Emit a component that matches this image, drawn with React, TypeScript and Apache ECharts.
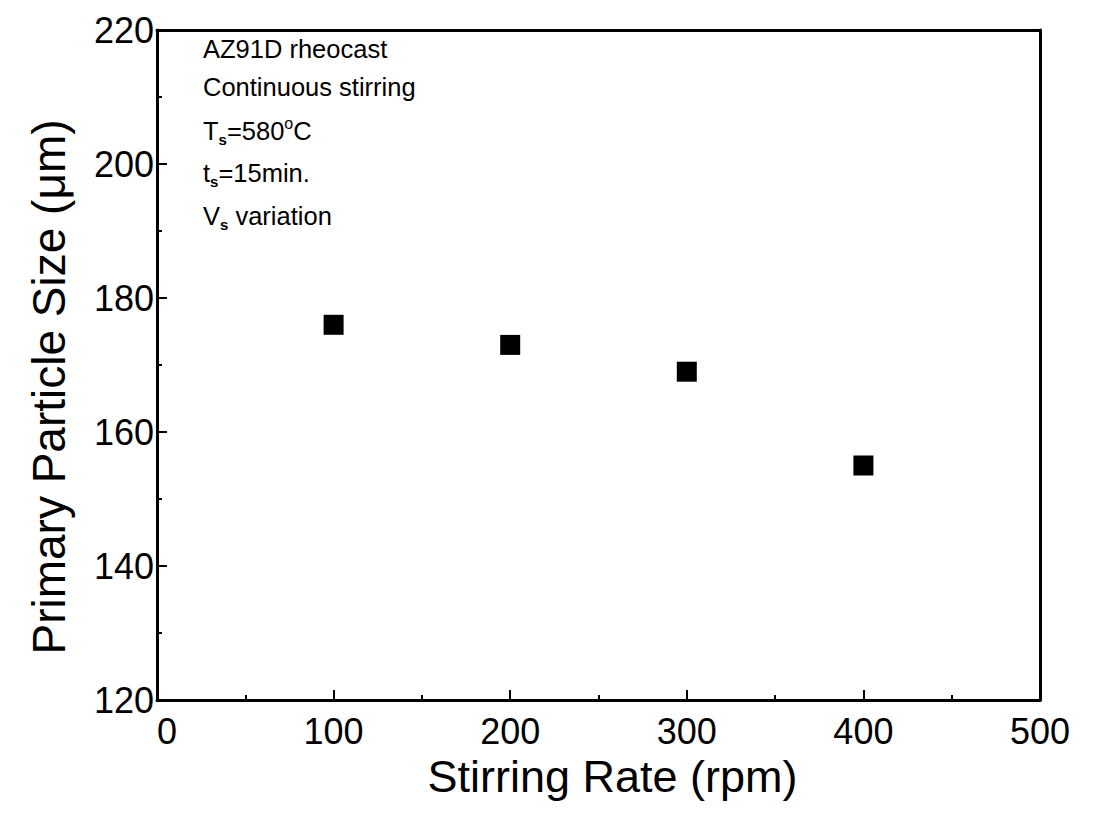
import React, { useEffect, useRef } from "react";
import * as echarts from "echarts";

const stirringRate = [100, 200, 300, 400];
const particleSize = [176, 173, 169, 155];
const xTicks = [0, 100, 200, 300, 400, 500];
const yTicks = [120, 140, 160, 180, 200, 220];

const FONT = "Liberation Sans, Arial, sans-serif";

export default function App() {
  const ref = useRef<HTMLDivElement>(null);
  useEffect(() => {
    const chart = echarts.init(ref.current!, null, { renderer: "svg" });
    const base = { fontFamily: FONT, fontSize: 25.5, color: "#000" };
    const rich = {
      a: { ...base, verticalAlign: "middle", lineHeight: 32 },
      s: { fontFamily: FONT, fontSize: 15, fontWeight: "bold", color: "#000", verticalAlign: "bottom", lineHeight: 32, padding: [16, 0, 0, 0] },
      o: { fontFamily: FONT, fontSize: 16, color: "#000", verticalAlign: "top", lineHeight: 32, padding: [0, 0, 10, 0] },
    };
    const lines = [
      { y: 28, t: "{a|AZ91D rheocast}" },
      { y: 66, t: "{a|Continuous stirring}" },
      { y: 107, t: "{a|T}{s|s}{a|=580}{o|o}{a|C}" },
      { y: 150, t: "{a|t}{s|s}{a|=15min.}" },
      { y: 193, t: "{a|V}{s|s}{a| variation}" },
    ];
    chart.setOption({
      animation: false,
      backgroundColor: "#fff",
      grid: { left: 149, right: 57, top: 22, bottom: 112, containLabel: false },
      xAxis: [
        {
          type: "value",
          min: xTicks[0],
          max: xTicks[xTicks.length - 1],
          interval: 100,
          name: "Stirring Rate (rpm)",
          nameLocation: "middle",
          nameGap: 46,
          nameTextStyle: { fontFamily: FONT, fontSize: 45, color: "#000", padding: [0, 0, 0, 28] },
          axisLine: { show: true, onZero: false, lineStyle: { color: "#000", width: 3 } },
          axisTick: { show: true, inside: true, length: 10, lineStyle: { color: "#000", width: 2 } },
          minorTick: { show: true, splitNumber: 2, length: 5, lineStyle: { color: "#000", width: 2 } },
          axisLabel: { fontFamily: FONT, fontSize: 36, lineHeight: 26, color: "#000", margin: 18, alignMinLabel: "left" },
          splitLine: { show: false },
        },
        {
          type: "value",
          position: "top",
          min: 0,
          max: 500,
          axisLine: { show: true, onZero: false, lineStyle: { color: "#000", width: 3 } },
          axisTick: { show: false },
          axisLabel: { show: false },
          splitLine: { show: false },
        },
      ],
      yAxis: [
        {
          type: "value",
          min: yTicks[0],
          max: yTicks[yTicks.length - 1],
          interval: 20,
          name: "Primary Particle Size (\u03bcm)",
          nameLocation: "middle",
          nameGap: 85,
          nameTextStyle: { fontFamily: FONT, fontSize: 46, color: "#000", padding: [0, 44, 0, 0] },
          axisLine: { show: true, onZero: false, lineStyle: { color: "#000", width: 3 } },
          axisTick: { show: true, inside: true, length: 10, lineStyle: { color: "#000", width: 2 } },
          minorTick: { show: true, splitNumber: 2, length: 5, lineStyle: { color: "#000", width: 2 } },
          axisLabel: { fontFamily: FONT, fontSize: 36, lineHeight: 26, color: "#000", margin: 3 },
          splitLine: { show: false },
        },
        {
          type: "value",
          position: "right",
          min: 120,
          max: 220,
          axisLine: { show: true, onZero: false, lineStyle: { color: "#000", width: 3 } },
          axisTick: { show: false },
          axisLabel: { show: false },
          splitLine: { show: false },
        },
      ],
      graphic: lines.map((l) => ({
        type: "text",
        left: 195,
        top: l.y,
        style: { text: l.t, rich },
      })),
      series: [
        {
          type: "scatter",
          symbol: "rect",
          symbolSize: 20,
          itemStyle: { color: "#000", opacity: 1 },
          data: stirringRate.map((x, i) => [x, particleSize[i]]),
        },
      ],
    });
    return () => chart.dispose();
  }, []);
  return <div ref={ref} style={{ width: 1089, height: 804 }} />;
}
